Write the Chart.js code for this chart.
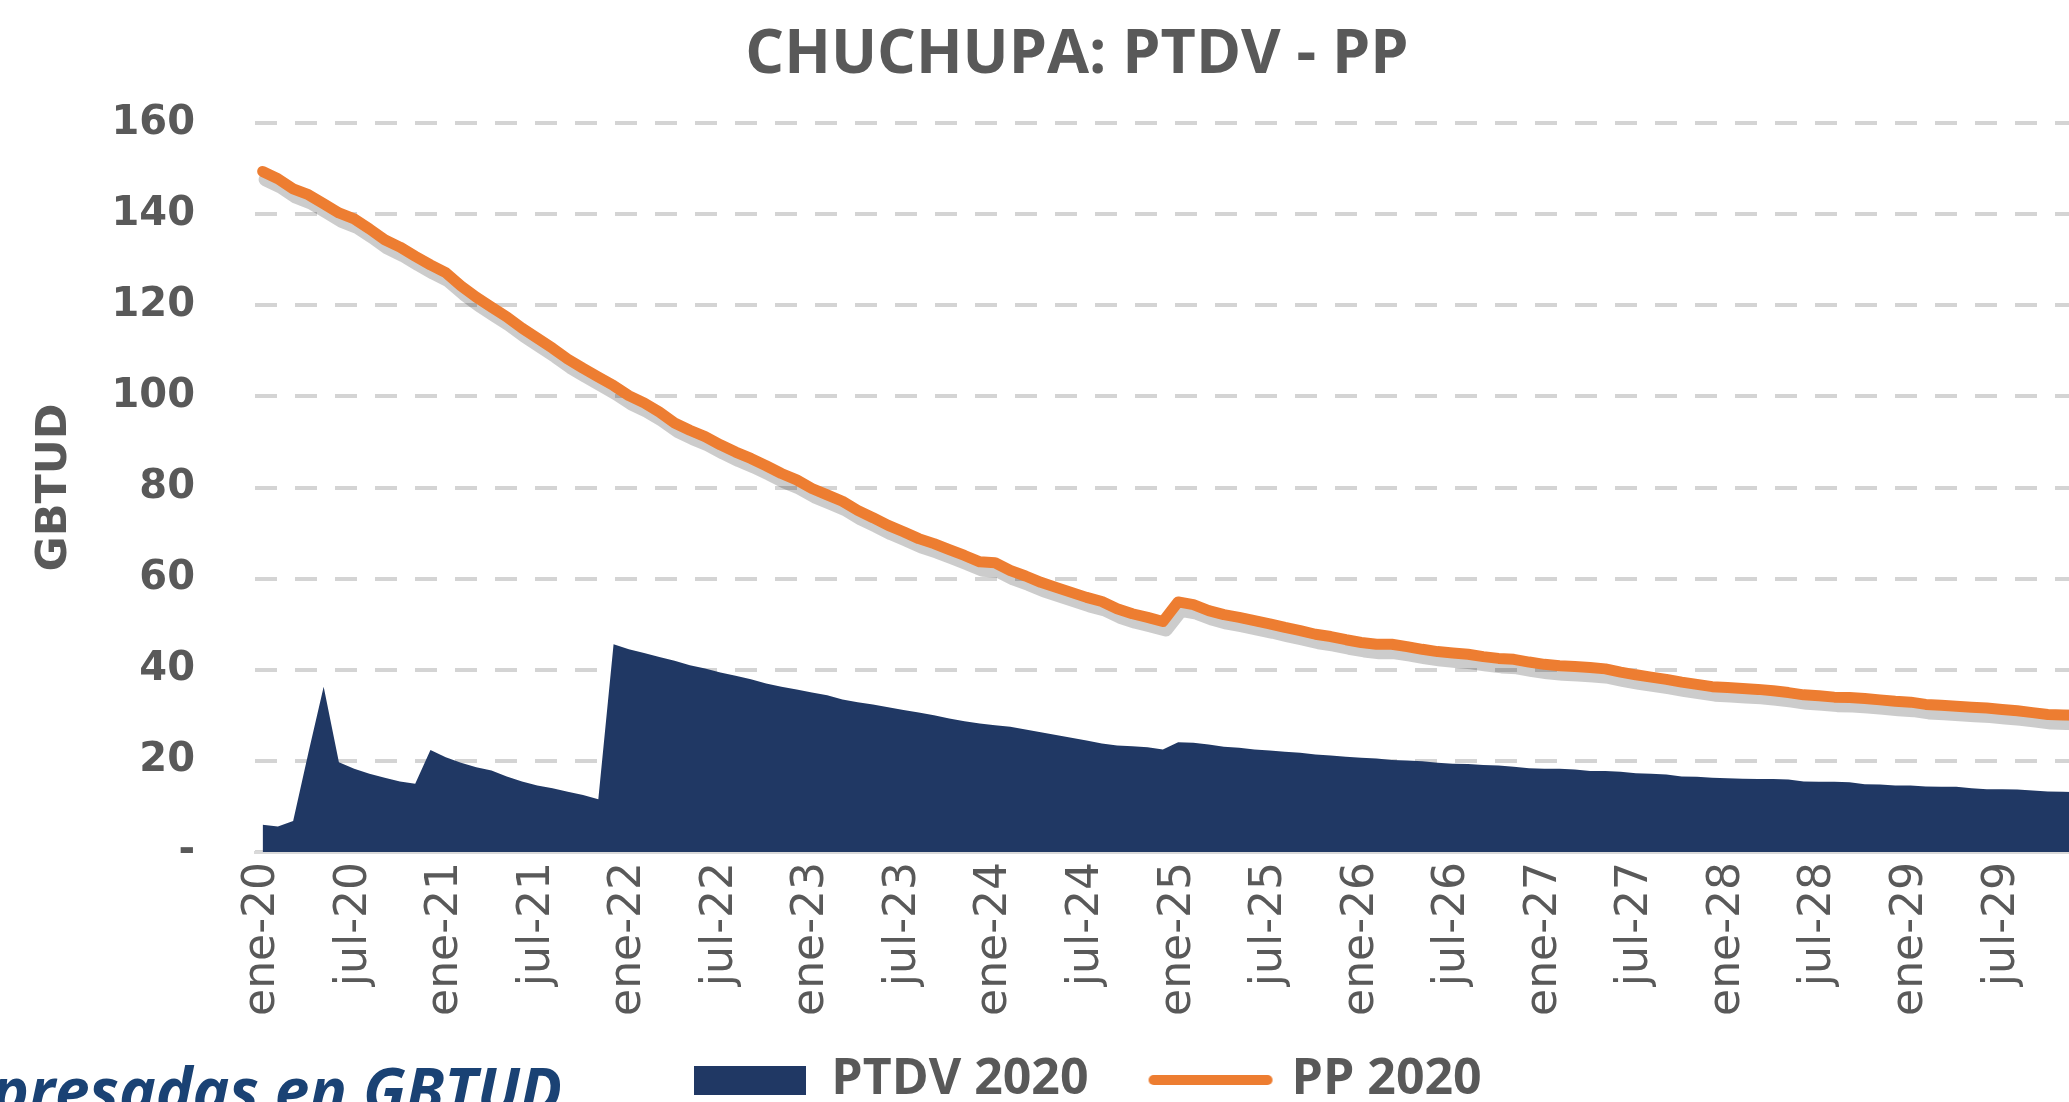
<!DOCTYPE html>
<html>
<head>
<meta charset="utf-8">
<script src="https://cdn.jsdelivr.net/npm/chart.js@4.4.1/dist/chart.umd.min.js"></script>
<style>
  html, body { margin: 0; padding: 0; background: #fff; overflow: hidden; }
  #wrap { position: relative; width: 2069px; height: 1102px; overflow: hidden; }
  #chart { position: absolute; left: 0; top: 0; }
  #nota {
    position: absolute; left: -8px; top: 1058px; margin: 0;
    font-family: "Open Sans", sans-serif; font-weight: bold; font-style: italic;
    font-size: 62px; line-height: 1; color: #1a4274; white-space: nowrap;
  }
</style>
</head>
<body>
<div id="wrap">
  <canvas id="chart" width="2086" height="1102"></canvas>
  <p id="nota">presadas en GBTUD</p>
</div>
<script>
const meses = ['ene', 'feb', 'mar', 'abr', 'may', 'jun', 'jul', 'ago', 'sep', 'oct', 'nov', 'dic'];
const anios = [20, 21, 22, 23, 24, 25, 26, 27, 28, 29];
const categorias = anios.flatMap(a => meses.map(m => m + '-' + a));

// GBTUD, mensual ene-20 .. dic-29
const ptdv2020 = [
  6.0, 5.6, 6.8, 21.8, 36.3, 19.7, 18.3, 17.2, 16.3, 15.5, 15.0, 22.4,
  20.8, 19.6, 18.6, 17.9, 16.6, 15.5, 14.6, 14.0, 13.2, 12.5, 11.6, 45.6,
  44.5, 43.7, 42.8, 42.0, 41.0, 40.3, 39.4, 38.7, 37.9, 37.0, 36.3, 35.7,
  35.0, 34.4, 33.5, 32.9, 32.4, 31.8, 31.2, 30.6, 30.0, 29.3, 28.7, 28.2,
  27.8, 27.5, 26.9, 26.3, 25.7, 25.1, 24.5, 23.8, 23.4, 23.2, 23.0, 22.5,
  24.1, 24.0, 23.6, 23.1, 22.9, 22.5, 22.3, 22.0, 21.8, 21.4, 21.2, 20.9,
  20.7, 20.5, 20.2, 20.1, 19.9, 19.6, 19.4, 19.3, 19.1, 19.0, 18.7, 18.4,
  18.3, 18.3, 18.1, 17.8, 17.8, 17.6, 17.3, 17.2, 17.0, 16.6, 16.5, 16.3,
  16.2, 16.1, 16.0, 16.0, 15.9, 15.5, 15.4, 15.4, 15.3, 14.9, 14.8, 14.6,
  14.6, 14.4, 14.3, 14.3, 14.0, 13.8, 13.8, 13.7, 13.5, 13.3, 13.2, 13.1
];
const pp2020 = [
  149.4, 147.8, 145.6, 144.3, 142.3, 140.3, 139.0, 136.8, 134.4, 132.8, 130.8, 128.9,
  127.2, 124.3, 121.8, 119.6, 117.5, 115.0, 112.8, 110.6, 108.2, 106.2, 104.3, 102.4,
  100.2, 98.6, 96.6, 94.2, 92.6, 91.2, 89.4, 87.8, 86.4, 84.8, 83.1, 81.7,
  79.8, 78.4, 77.0, 75.0, 73.4, 71.7, 70.3, 68.8, 67.7, 66.4, 65.1, 63.7,
  63.5, 61.8, 60.6, 59.2, 58.1, 57.0, 55.9, 55.0, 53.4, 52.3, 51.5, 50.6,
  54.9, 54.3, 53.0, 52.1, 51.5, 50.8, 50.1, 49.3, 48.6, 47.8, 47.3, 46.6,
  46.0, 45.6, 45.6, 45.1, 44.5, 44.0, 43.7, 43.4, 42.9, 42.5, 42.3, 41.7,
  41.2, 40.9, 40.7, 40.5, 40.2, 39.5, 38.9, 38.4, 37.9, 37.3, 36.8, 36.3,
  36.1, 35.9, 35.7, 35.4, 35.0, 34.5, 34.3, 34.0, 33.9, 33.7, 33.4, 33.1,
  32.9, 32.4, 32.2, 32.0, 31.8, 31.6, 31.3, 31.0, 30.6, 30.2, 30.1, 30.0
];

const AZUL = '#203864';
const NARANJA = '#ED7D31';
const GRIS = '#595959';

// muestras de la leyenda
function muestra(w, h, dibujar) {
  const c = document.createElement('canvas');
  c.width = w; c.height = h;
  dibujar(c.getContext('2d'));
  return c;
}
const muestraPtdv = muestra(112, 29, ctx => { ctx.fillStyle = AZUL; ctx.fillRect(0, 0, 112, 29); });
const muestraPp = muestra(126, 12, ctx => {
  ctx.strokeStyle = NARANJA; ctx.lineWidth = 10; ctx.lineCap = 'round';
  ctx.beginPath(); ctx.moveTo(6, 6); ctx.lineTo(120, 6); ctx.stroke();
});

// sombra de la curva PP: la serie "sombra" se dibuja desplazada hacia abajo
const sombra = {
  id: 'sombra',
  beforeDatasetDraw(chart, args) {
    if (args.index !== 2) return;
    chart.ctx.save();
    chart.ctx.translate(3, 8);
  },
  afterDatasetDraw(chart, args) {
    if (args.index === 2) chart.ctx.restore();
  }
};

// desplaza titulo y leyenda como en la imagen original
const ajuste = {
  id: 'ajuste',
  afterLayout(chart) {
    chart.titleBlock.left += 34; chart.titleBlock.right += 34;
    chart.legend.left += 45; chart.legend.right += 45;
    chart.legend.top -= 31;
  }
};

new Chart(document.getElementById('chart'), {
  type: 'line',
  data: {
    labels: categorias,
    datasets: [
      {
        label: 'PTDV 2020',
        data: ptdv2020,
        backgroundColor: AZUL,
        borderWidth: 0,
        fill: 'origin',
        pointRadius: 0,
        order: 3
      },
      {
        label: 'PP 2020',
        data: pp2020,
        borderColor: NARANJA,
        borderWidth: 11,
        borderCapStyle: 'round',
        borderJoinStyle: 'round',
        fill: false,
        pointRadius: 0,
        order: 1
      },
      {
        label: 'sombra',
        data: pp2020.slice(),
        borderColor: 'rgba(0,0,0,0.2)',
        borderWidth: 14,
        borderCapStyle: 'round',
        borderJoinStyle: 'round',
        fill: false,
        pointRadius: 0,
        clip: 20,
        order: 2
      }
    ]
  },
  options: {
    responsive: false,
    animation: false,
    layout: { padding: 0 },
    plugins: {
      tooltip: { enabled: false },
      title: {
        display: true,
        text: 'CHUCHUPA: PTDV - PP',
        color: GRIS,
        font: { family: 'Open Sans', size: 61, weight: 'bold' },
        padding: { top: 19, bottom: 31 }
      },
      legend: {
        position: 'bottom',
        maxHeight: 82,
        labels: {
          usePointStyle: true,
          pointStyleWidth: 112,
          padding: 66,
          color: GRIS,
          font: { family: 'Open Sans', size: 50, weight: 'bold' },
          generateLabels(chart) {
            const estilos = [muestraPtdv, muestraPp];
            return chart.data.datasets.slice(0, 2).map((ds, i) => ({
              text: ds.label,
              pointStyle: estilos[i],
              fillStyle: 'transparent',
              strokeStyle: 'transparent',
              lineWidth: 0,
              fontColor: GRIS,
              hidden: false,
              datasetIndex: i
            }));
          }
        }
      }
    },
    scales: {
      x: {
        offset: true,
        grid: { display: true, drawOnChartArea: false, drawTicks: false },
        border: { display: true, color: '#d9d9d9', width: 3 },
        ticks: {
          autoSkip: false,
          minRotation: 90,
          maxRotation: 90,
          padding: 10,
          color: GRIS,
          font: { family: 'DejaVu Sans', size: 44 },
          callback(val, i) { return i % 6 === 0 ? this.getLabelForValue(val) : null; }
        },
        afterFit(scale) { scale.height = 168; }
      },
      y: {
        min: 0,
        max: 160,
        grid: { color: '#d4d4d4', lineWidth: 4, drawTicks: false },
        border: { display: false, dash: [22, 18] },
        ticks: {
          stepSize: 20,
          padding: 60,
          color: GRIS,
          font: { family: 'DejaVu Sans', size: 40, weight: 'bold' },
          callback: v => (v === 0 ? '-' : v)
        },
        title: {
          display: true,
          text: 'GBTUD',
          color: GRIS,
          font: { family: 'DejaVu Sans', size: 43, weight: 'bold' },
          padding: { top: 29, bottom: 10 }
        },
        afterFit(scale) { scale.width = 255; }
      }
    }
  },
  plugins: [sombra, ajuste]
});
</script>
</body>
</html>
